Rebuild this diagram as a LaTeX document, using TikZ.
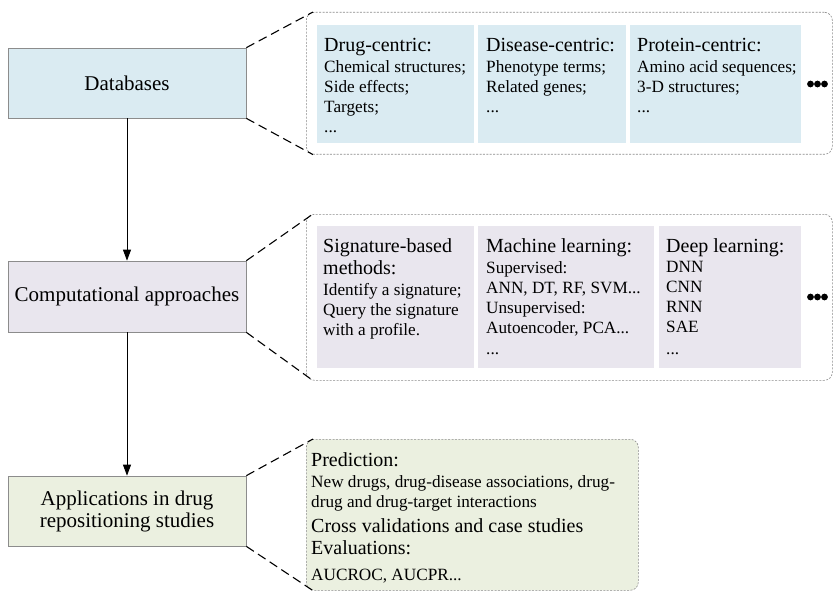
\documentclass[tikz,border=0pt]{standalone}
\usepackage{fontspec}
\setmainfont{Liberation Serif}
\usetikzlibrary{arrows.meta,calc}

\definecolor{dbfill}{HTML}{DAEBF2}
\definecolor{cafill}{HTML}{E9E6EE}
\definecolor{apfill}{HTML}{EBF0E0}
\definecolor{mainedge}{HTML}{8C8C8C}
\definecolor{paneledge}{HTML}{8A8A8A}

\newcommand\hdfont{\fontsize{20}{20}\selectfont}
\newcommand\subfont{\fontsize{17.2}{20}\selectfont}
\newcommand\mainfont{\fontsize{21}{22}\selectfont}
% a left-aligned column whose baseline is that of its first line
\newcommand\col[1]{\renewcommand\arraystretch{1}\begin{tabular}[t]{@{}l@{}}#1\end{tabular}}

\begin{document}
\begin{tikzpicture}[x=1pt,y=-1pt,
  mainbox/.style={draw=mainedge,line width=0.7pt,minimum width=238pt,inner sep=0pt,
    font=\mainfont,align=center},
  panel/.style={draw=paneledge,line width=0.6pt,dash pattern=on 2pt off 1.4pt,
    rounded corners=8pt,anchor=north west,inner sep=0pt},
  innerbox/.style={anchor=north west,inner sep=0pt,draw=none},
  coltext/.style={anchor=base west,inner sep=0pt,font=\subfont},
  zoomline/.style={line width=1.1pt,dash pattern=on 9pt off 5pt},
  flow/.style={line width=0.9pt,-{Triangle[width=8pt,length=11pt]}},
  dot/.style={fill=black}
]
\useasboundingbox (0,0) rectangle (833,591);
\clip (0,0) rectangle (833,591);

% ---- left column: the three stages ----
\node[mainbox,fill=dbfill,minimum height=70pt] (db) at (127,83) {Databases};
\node[mainbox,fill=cafill,minimum height=71pt] (ca) at (127,296.5) {Computational approaches};
\node[mainbox,fill=apfill,minimum height=70pt] (ap) at (127,511)
  {Applications in drug\\repositioning studies};

\draw[flow] (db) -- (ca);
\draw[flow] (ca) -- (ap);

% ---- detail panels ----
\node[panel,minimum width=526pt,minimum height=142pt] (p1) at (306,12) {};
\node[panel,minimum width=526pt,minimum height=166pt] (p2) at (306,214) {};
\node[panel,fill=apfill,minimum width=332pt,minimum height=151pt] (p3) at (306,439) {};

\coordinate (p1a) at ($(p1.north west)+(7,0)$);
\coordinate (p1b) at ($(p1.south west)+(7,0)$);
\coordinate (p2a) at ($(p2.north west)+(7,0)$);
\coordinate (p2b) at ($(p2.south west)+(7,0)$);
\coordinate (p3a) at ($(p3.north west)+(7,0)$);
\coordinate (p3b) at ($(p3.south west)+(7,0)$);

\draw[zoomline] (db.north east) -- (p1a);
\draw[zoomline] (db.south east) -- (p1b);
\draw[zoomline] (ca.north east) -- (p2a);
\draw[zoomline] (ca.south east) -- (p2b);
\draw[zoomline] (ap.north east) -- (p3a);
\draw[zoomline] (ap.south east) -- (p3b);

% ---- databases panel ----
\node[innerbox,fill=dbfill,minimum width=157pt,minimum height=118pt] (b11) at (317,25) {};
\node[innerbox,fill=dbfill,minimum width=148pt,minimum height=118pt] (b12) at (478,25) {};
\node[innerbox,fill=dbfill,minimum width=171pt,minimum height=118pt] (b13) at (630,25) {};

\node[coltext] (t11) at (324,52) {\col{{\hdfont Drug-centric:}\\[1pt]
  Chemical structures;\\ Side effects;\\ Targets;\\ ...}};
\node[coltext] (t12) at (486,52) {\col{{\hdfont Disease-centric:}\\[1pt]
  Phenotype terms;\\ Related genes;\\ ...}};
\node[coltext] (t13) at (637,52) {\col{{\hdfont Protein-centric:}\\[1pt]
  Amino acid sequences;\\ 3-D structures;\\ ...}};

\foreach \i in {0,1,2} \fill[dot] (810.5+7*\i,84) circle (3.4);

% ---- computational approaches panel ----
\node[innerbox,fill=cafill,minimum width=157pt,minimum height=142pt] (b21) at (317,226) {};
\node[innerbox,fill=cafill,minimum width=176pt,minimum height=142pt] (b22) at (478,226) {};
\node[innerbox,fill=cafill,minimum width=142pt,minimum height=142pt] (b23) at (659,226) {};

\node[coltext] (t21) at (323,252) {\col{{\hdfont Signature-based}\\[2pt]
  {\hdfont methods:}\\[1pt]
  Identify a signature;\\ Query the signature\\ with a profile.}};
\node[coltext] (t22) at (486,252) {\col{{\hdfont Machine learning:}\\[1pt]
  Supervised:\\ ANN, DT, RF, SVM...\\ Unsupervised:\\ Autoencoder, PCA...\\[1pt] ...}};
\node[coltext] (t23) at (666,252) {\col{{\hdfont Deep learning:}\\
  DNN\\ CNN\\ RNN\\ SAE\\[2pt] ...}};

\foreach \i in {0,1,2} \fill[dot] (810.5+7*\i,297) circle (3.4);

% ---- applications panel ----
\node[coltext] (t31) at (311,466) {\col{{\hdfont Prediction:}\\[1pt]
  New drugs, drug-disease associations, drug-\\
  drug and drug-target interactions\\[5pt]
  {\hdfont Cross validations and case studies}\\[2pt]
  {\hdfont Evaluations:}\\[6pt]
  AUCROC, AUCPR...}};

\end{tikzpicture}
\end{document}
